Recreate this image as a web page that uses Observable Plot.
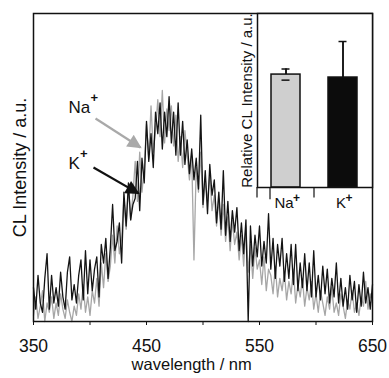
<!DOCTYPE html>
<html><head><meta charset="utf-8">
<script src="https://cdn.jsdelivr.net/npm/d3@7"></script>
<script src="https://cdn.jsdelivr.net/npm/@observablehq/plot@0.6"></script>
<style>
html,body{margin:0;padding:0;background:#fff;}
#wrap{position:relative;width:389px;height:378px;overflow:hidden;}
#wrap svg{position:absolute;top:0;}
</style></head><body><div id="wrap"></div>
<script>
// Spectra: wavelength grid 350..650 nm every 2 nm
const wlStart = 350, wlStep = 2;
const kValues = [
11,4,15,6,3,14,22,4,15,6,
11,5,16,8,4,16,21,7,12,6,
15,20,7,23,9,20,10,17,21,8,
25,19,27,14,24,38,23,26,32,19,
42,31,45,33,38,40,52,36,53,45,
65,52,61,50,68,61,71,56,68,60,
73,58,68,54,71,54,65,51,59,48,
56,46,53,43,67,38,49,35,51,41,
46,32,42,30,49,28,39,26,36,29,
37,23,32,22,33,0,31,18,28,21,
31,18,26,19,35,17,27,14,25,18,
27,13,22,14,25,12,25,10,19,11,
22,10,19,8,23,8,15,7,18,9,
17,6,14,8,19,6,14,5,11,4,
15,7,13,3,12,5,16,6,11,4,
12];
const naValues = [
2,8,1,5,10,0,6,3,8,1,
6,2,9,4,1,7,3,0,5,2,
9,4,12,3,8,2,10,6,14,5,
19,11,22,13,18,28,19,31,22,27,
40,30,44,33,41,52,39,55,42,50,
64,53,70,55,62,72,60,75,58,69,
62,70,57,67,52,60,50,62,54,46,
54,20,50,42,55,37,46,39,48,36,
41,31,40,28,38,26,34,23,33,25,
29,20,28,18,31,16,25,14,24,17,
20,12,21,10,17,15,9,18,8,14,
10,16,7,13,9,17,6,12,8,14,
5,11,7,13,4,9,3,10,6,2,
8,4,11,3,6,2,9,5,1,7,
4,10,3,6,2,8,5,13,4,9,
6];
const wavelength = kValues.map((_, i) => wlStart + i * wlStep);

const xTicks = [350, 400, 450, 500, 550, 600, 650];
const xTickLabels = [350, 450, 550, 650];
const xLabel = "wavelength / nm";
const yLabel = "CL Intensity / a.u.";

// Annotations (data coordinates)
const annotIons = ["Na", "K"];
const annotX = [381, 381];
const annotY = [69.5, 51.3];
const arrowX1 = [404.9, 403.1];
const arrowY1 = [65.9, 50.0];
const arrowX2 = [444.7, 442.9];
const arrowY2 = [56.5, 41.6];
const annotColors = ["#a9a9a9", "#111111"];

// Inset bar chart
const ions = ["Na", "K"];
const relIntensity = [64.9, 63.2];
const relError = [3.2, 20.7];
const barFills = ["#cfcfcf", "#0c0c0c"];
const insetYLabel = "Relative CL Intensity / a.u.";

const font = "'Liberation Sans', Arial, Helvetica, sans-serif";
const ink = "#111";

const main = Plot.plot({
  width: 389, height: 378,
  marginLeft: 33, marginRight: 17, marginTop: 13, marginBottom: 57,
  style: {fontFamily: font, fontSize: "17.5px", color: ink, background: "white", overflow: "visible"},
  x: {domain: [350, 650], ticks: xTicks, tickFormat: d => xTickLabels.includes(d) ? String(d) : "", tickSize: 4, tickPadding: 14, label: null},
  y: {domain: [0, 100], axis: null},
  marks: [
    Plot.line(naValues, {x: (d, i) => wavelength[i], y: d => d, stroke: "#a6a6a6", strokeWidth: 1.3}),
    Plot.line(kValues, {x: (d, i) => wavelength[i], y: d => d, stroke: "#141414", strokeWidth: 1.3}),
    Plot.frame({stroke: ink, strokeWidth: 1.5}),
    Plot.link(annotIons, {x1: (d, i) => arrowX1[i], y1: (d, i) => arrowY1[i], x2: (d, i) => arrowX2[i], y2: (d, i) => arrowY2[i], stroke: (d, i) => annotColors[i], strokeWidth: 2.2}),
    Plot.text(annotIons, {x: (d, i) => annotX[i], y: (d, i) => annotY[i], text: d => d, textAnchor: "start", fontSize: 17, fill: ink}),
    Plot.text(annotIons, {x: (d, i) => annotX[i], y: (d, i) => annotY[i], text: d => "+", textAnchor: "middle", fontSize: 13, fontWeight: "bold", fill: ink, dx: 0, dy: -10, filter: d => d === "Na"}),
    Plot.text(annotIons, {x: (d, i) => annotX[i], y: (d, i) => annotY[i], text: d => "+", textAnchor: "middle", fontSize: 13, fontWeight: "bold", fill: ink, dx: 0, dy: -10, filter: d => d === "K"}),
    Plot.text([yLabel], {frameAnchor: "left", dx: -13, rotate: -90, textAnchor: "middle", text: d => d, fontSize: 18, fill: ink}),
    Plot.text([xLabel], {x: () => 490, frameAnchor: "bottom", dy: 48, text: d => d, fontSize: 16.5, fill: ink})
  ]
});
main.style.left = "0px";
document.getElementById("wrap").appendChild(main);

// position "+" superscripts after the base label widths, add arrow heads
{
  const svg = d3.select(main);
  const groups = svg.selectAll('g[aria-label="text"]').nodes();
  const base = d3.select(groups[0]).selectAll("text").nodes();
  const plusNodes = [d3.select(groups[1]).select("text").node(), d3.select(groups[2]).select("text").node()];
  base.forEach((t, i) => {
    const w = t.getComputedTextLength();
    const p = plusNodes[i];
    if (p) {
      const tr = p.getAttribute("transform") || "";
      p.setAttribute("transform", tr + ` translate(${w + 4},0)`);
    }
  });
  const defs = svg.append("defs");
  annotColors.forEach((c, i) => {
    defs.append("marker").attr("id", "head" + i)
      .attr("viewBox", "0 0 10 10").attr("refX", 9).attr("refY", 5)
      .attr("markerUnits", "userSpaceOnUse").attr("markerWidth", 16).attr("markerHeight", 14)
      .attr("orient", "auto")
      .append("path").attr("d", "M0,0L10,5L0,10z").attr("fill", c);
  });
  svg.selectAll('g[aria-label="link"] path').attr("marker-end", (d, i) => `url(#head${i})`);
}

const inset = Plot.plot({
  width: 143, height: 222,
  marginLeft: 27, marginRight: 1, marginTop: 13, marginBottom: 35,
  style: {fontFamily: font, fontSize: "15px", color: ink, background: "transparent", overflow: "visible"},
  x: {domain: ions, paddingInner: 0.483, paddingOuter: 0.233, axis: null},
  y: {domain: [0, 100], axis: null},
  marks: [
    Plot.frame({fill: "white"}),
    Plot.ruleX(ions, {x: d => d, y1: (d, i) => relIntensity[i] - relError[i], y2: (d, i) => relIntensity[i] + relError[i], stroke: ink, strokeWidth: 1.5}),
    Plot.barY(ions, {x: d => d, y: (d, i) => relIntensity[i], fill: (d, i) => barFills[i], stroke: ink, strokeWidth: 1.5}),
    Plot.ruleX(ions, {x: d => d, y1: (d, i) => relIntensity[i], y2: (d, i) => relIntensity[i] + relError[i], stroke: ink, strokeWidth: 1.5}),
    Plot.tickY(ions, {x: d => d, y: (d, i) => relIntensity[i] + relError[i], stroke: ink, strokeWidth: 1.5, insetLeft: 10.5, insetRight: 10.5}),
    Plot.tickY(ions, {x: d => d, y: (d, i) => relIntensity[i] - relError[i], stroke: ink, strokeWidth: 1.5, insetLeft: 10.5, insetRight: 10.5, filter: d => d === "Na"}),
    Plot.frame({stroke: ink, strokeWidth: 1.5}),
    Plot.ruleX(ions, {x: d => d, dx: -29, y1: 0, y2: -6, stroke: ink, strokeWidth: 1.2}),
    Plot.ruleX(["Na"], {x: d => d, dx: -16, y1: 0, y2: -7, stroke: ink, strokeWidth: 1.2}),
    Plot.text(ions, {x: d => d, frameAnchor: "bottom", dy: 20, dx: -2, text: d => d, fontSize: 15, fill: ink}),
    Plot.text([insetYLabel], {frameAnchor: "left", dx: -10, rotate: -90, textAnchor: "middle", text: d => d, fontSize: 15, fill: ink})
  ]
});
inset.style.left = "230px";
document.getElementById("wrap").appendChild(inset);

{
  const svg = d3.select(inset);
  const labels = svg.selectAll('g[aria-label="text"]').nodes()[0];
  d3.select(labels).selectAll("text").each(function () {
    const w = this.getComputedTextLength();
    const tr = this.getAttribute("transform") || "";
    const x = +this.getAttribute("x") || 0;
    const y = +this.getAttribute("y") || 0;
    d3.select(this.parentNode).append("text")
      .attr("transform", tr)
      .attr("x", x).attr("y", y)
      .attr("dx", w / 2 + 3).attr("dy", -9)
      .attr("text-anchor", "middle")
      .attr("font-size", 12).attr("font-weight", "bold")
      .attr("fill", ink)
      .attr("dominant-baseline", "middle")
      .text("+");
  });
}
</script></body></html>
